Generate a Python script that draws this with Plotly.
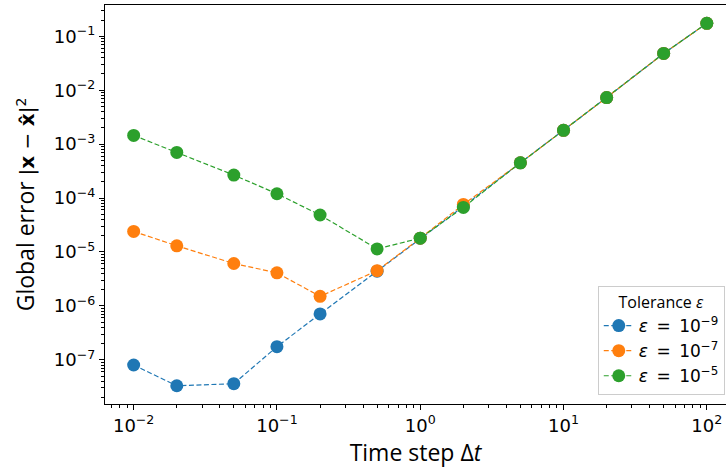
import plotly.graph_objects as go

dt = [0.01, 0.02, 0.05, 0.1, 0.2, 0.5, 1, 2, 5, 10, 20, 50, 100]
err_1e9 = [8.0e-8, 3.3e-8, 3.6e-8, 1.75e-7, 7.1e-7, 4.4e-6, 1.8e-5, 7.0e-5, 4.5e-4, 1.8e-3, 7.3e-3, 4.8e-2, 0.174]
err_1e7 = [2.4e-5, 1.3e-5, 6.1e-6, 4.1e-6, 1.5e-6, 4.5e-6, 1.8e-5, 7.6e-5, 4.5e-4, 1.8e-3, 7.3e-3, 4.8e-2, 0.174]
err_1e5 = [1.45e-3, 7.0e-4, 2.67e-4, 1.2e-4, 4.84e-5, 1.14e-5, 1.8e-5, 6.7e-5, 4.5e-4, 1.8e-3, 7.3e-3, 4.8e-2, 0.174]
names = ["<i>ε</i>\u2002=\u200210<sup>−9</sup>", "<i>ε</i>\u2002=\u200210<sup>−7</sup>", "<i>ε</i>\u2002=\u200210<sup>−5</sup>"]
colors = ["#1f77b4", "#ff7f0e", "#2ca02c"]

x_tickvals = [0.01, 0.1, 1, 10, 100]
x_ticktext = ["10<sup>−2</sup>", "10<sup>−1</sup>", "10<sup>0</sup>", "10<sup>1</sup>", "10<sup>2</sup>"]
y_tickvals = [1e-7, 1e-6, 1e-5, 1e-4, 1e-3, 1e-2, 1e-1]
y_ticktext = ["10<sup>−7</sup>", "10<sup>−6</sup>", "10<sup>−5</sup>", "10<sup>−4</sup>",
              "10<sup>−3</sup>", "10<sup>−2</sup>", "10<sup>−1</sup>"]

fig = go.Figure()
for ys, nm, c in zip([err_1e9, err_1e7, err_1e5], names, colors):
    fig.add_trace(go.Scatter(
        x=dt, y=ys, name=nm, mode="lines+markers",
        line=dict(color=c, width=1.2, dash="5px,2.5px"),
        marker=dict(color=c, size=13),
    ))

def minor_vals(lo, hi):
    out = []
    for e in range(lo, hi + 1):
        for m in range(2, 10):
            out.append(m * 10.0 ** e)
    return out

fig.update_layout(
    width=726, height=471,
    margin=dict(l=105, r=0, t=5, b=67),
    plot_bgcolor="white", paper_bgcolor="white",
    font=dict(family="Open Sans", size=18, color="black"),
    legend=dict(
        title=dict(text="Tolerance <i>ε</i>", font=dict(family="Open Sans", size=16), side="top center"),
        font=dict(family="DejaVu Sans", size=17),
        x=0.998, y=0.022, xanchor="right", yanchor="bottom",
        bgcolor="rgba(255,255,255,0.8)", bordercolor="#cccccc", borderwidth=1,
        tracegroupgap=4,
    ),
    showlegend=True,
)
fig.update_xaxes(
    type="log", range=[-2.2, 2.134],
    showline=True, linecolor="black", linewidth=1.2, mirror=True,
    showgrid=False, zeroline=False,
    ticks="outside", ticklen=5, tickwidth=1, tickcolor="black",
    tickvals=x_tickvals, ticktext=x_ticktext,
    tickfont=dict(family="DejaVu Sans", size=18),
    minor=dict(ticks="outside", ticklen=3, tickcolor="black", tickvals=minor_vals(-3, 2), showgrid=False),
    title=dict(text="Time step Δ<i>t</i>", font=dict(family="Open Sans", size=23), standoff=2),
)
fig.update_yaxes(
    type="log", range=[-7.82, -0.42],
    showline=True, linecolor="black", linewidth=1.2,
    showgrid=False, zeroline=False,
    ticks="outside", ticklen=5, tickwidth=1, tickcolor="black",
    tickvals=y_tickvals, ticktext=y_ticktext,
    tickfont=dict(family="DejaVu Sans", size=18),
    minor=dict(ticks="outside", ticklen=3, tickcolor="black", tickvals=minor_vals(-9, 0), showgrid=False),
    title=dict(
        text="Global error <span style=\"font-family:'DejaVu Sans';font-size:20px\">|<b>x</b> − <b>x̂</b>|<sup>2</sup></span>",
        font=dict(family="Open Sans", size=23), standoff=12),
)

fig.write_html("out.html")
